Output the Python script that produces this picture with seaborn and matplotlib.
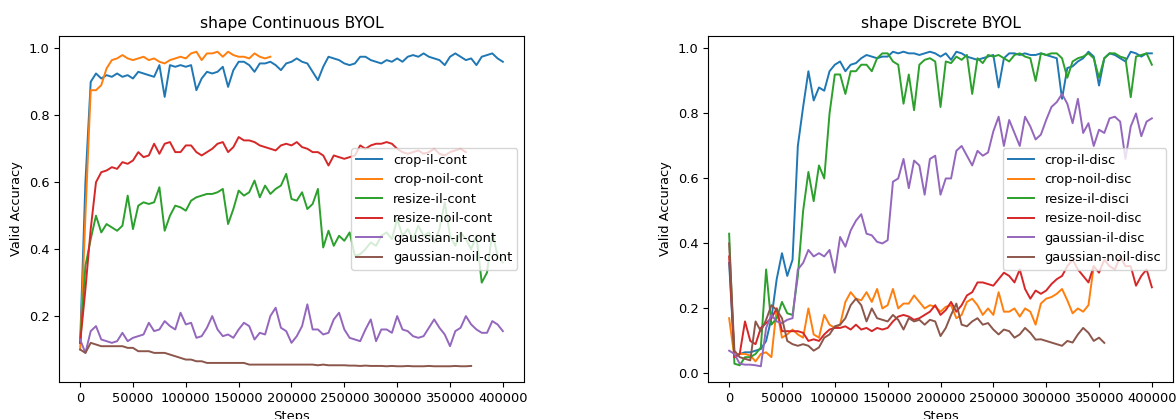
import numpy as np
import pandas as pd
import matplotlib
matplotlib.use("Agg")
import matplotlib.pyplot as plt
import seaborn as sns

# ---------------- data (steps sampled every 5000) ----------------
STEP = 5000

crop_il_cont = [0.12, 0.6, 0.90, 0.925, 0.91, 0.92, 0.915, 0.925, 0.915, 0.92,
                0.91, 0.93, 0.925, 0.92, 0.915, 0.95, 0.855, 0.95, 0.945, 0.95,
                0.945, 0.95, 0.875, 0.91, 0.93, 0.925, 0.93, 0.945, 0.885, 0.935,
                0.96, 0.96, 0.95, 0.93, 0.955, 0.955, 0.96, 0.95, 0.935, 0.955,
                0.96, 0.97, 0.96, 0.955, 0.93, 0.905, 0.945, 0.975, 0.97, 0.965,
                0.955, 0.95, 0.955, 0.975, 0.975, 0.965, 0.96, 0.955, 0.965, 0.96,
                0.97, 0.96, 0.975, 0.98, 0.975, 0.985, 0.975, 0.97, 0.965, 0.95,
                0.975, 0.985, 0.975, 0.965, 0.97, 0.95, 0.975, 0.98, 0.985, 0.97,
                0.96]
crop_noil_cont = [0.10, 0.5, 0.875, 0.875, 0.89, 0.94, 0.965, 0.97, 0.98, 0.97,
                  0.965, 0.97, 0.975, 0.965, 0.97, 0.96, 0.955, 0.965, 0.97, 0.975,
                  0.97, 0.985, 0.99, 0.965, 0.985, 0.985, 0.99, 0.975, 0.99, 0.98,
                  0.975, 0.975, 0.97, 0.985, 0.975, 0.97, 0.975]
resize_il_cont = [0.12, 0.35, 0.43, 0.50, 0.45, 0.475, 0.465, 0.455, 0.47, 0.56,
                  0.46, 0.53, 0.54, 0.535, 0.54, 0.585, 0.455, 0.50, 0.53, 0.525,
                  0.515, 0.545, 0.555, 0.56, 0.565, 0.565, 0.57, 0.58, 0.475, 0.52,
                  0.575, 0.56, 0.57, 0.605, 0.555, 0.59, 0.565, 0.58, 0.59, 0.625,
                  0.55, 0.545, 0.57, 0.52, 0.535, 0.58, 0.405, 0.455, 0.41, 0.44,
                  0.425, 0.45, 0.38, 0.385, 0.40, 0.42, 0.41, 0.44, 0.45, 0.43,
                  0.49, 0.44, 0.46, 0.43, 0.47, 0.44, 0.45, 0.42, 0.46, 0.54,
                  0.44, 0.41, 0.45, 0.43, 0.40, 0.44, 0.30, 0.33, 0.45, 0.38,
                  0.36]
resize_noil_cont = [0.12, 0.28, 0.46, 0.60, 0.63, 0.635, 0.645, 0.64, 0.66, 0.655,
                    0.665, 0.69, 0.675, 0.68, 0.715, 0.685, 0.715, 0.72, 0.69, 0.69,
                    0.71, 0.71, 0.69, 0.68, 0.69, 0.70, 0.715, 0.72, 0.69, 0.705,
                    0.735, 0.725, 0.725, 0.72, 0.71, 0.705, 0.70, 0.695, 0.71, 0.715,
                    0.71, 0.72, 0.705, 0.70, 0.69, 0.69, 0.68, 0.65, 0.68, 0.675,
                    0.67, 0.675, 0.68, 0.71, 0.70, 0.71, 0.715, 0.715, 0.72, 0.715,
                    0.70, 0.69, 0.685, 0.69, 0.695, 0.685, 0.69, 0.70, 0.685, 0.68,
                    0.69, 0.695, 0.70, 0.69]
gaussian_il_cont = [0.13, 0.09, 0.155, 0.17, 0.13, 0.125, 0.12, 0.125, 0.15, 0.125,
                    0.135, 0.14, 0.145, 0.18, 0.155, 0.16, 0.185, 0.17, 0.16, 0.21,
                    0.175, 0.18, 0.135, 0.14, 0.165, 0.20, 0.16, 0.14, 0.145, 0.135,
                    0.16, 0.18, 0.17, 0.13, 0.15, 0.145, 0.20, 0.225, 0.165, 0.155,
                    0.12, 0.14, 0.17, 0.235, 0.16, 0.16, 0.145, 0.15, 0.19, 0.21,
                    0.16, 0.135, 0.13, 0.125, 0.16, 0.19, 0.125, 0.16, 0.16, 0.15,
                    0.20, 0.16, 0.155, 0.14, 0.135, 0.14, 0.165, 0.19, 0.165, 0.145,
                    0.11, 0.155, 0.165, 0.20, 0.175, 0.16, 0.15, 0.15, 0.185, 0.175,
                    0.155]
gaussian_noil_cont = [0.10, 0.09, 0.12, 0.115, 0.11, 0.11, 0.11, 0.11, 0.11, 0.105,
                      0.105, 0.095, 0.095, 0.095, 0.09, 0.09, 0.09, 0.085, 0.08, 0.075,
                      0.07, 0.07, 0.065, 0.065, 0.06, 0.06, 0.06, 0.06, 0.06, 0.06,
                      0.06, 0.06, 0.055, 0.055, 0.055, 0.055, 0.055, 0.055, 0.055, 0.055,
                      0.055, 0.055, 0.055, 0.055, 0.055, 0.053, 0.055, 0.053, 0.053, 0.053,
                      0.053, 0.052, 0.052, 0.051, 0.052, 0.051, 0.051, 0.051, 0.05, 0.051,
                      0.05, 0.05, 0.051, 0.05, 0.05, 0.05, 0.051, 0.05, 0.05, 0.05,
                      0.05, 0.051, 0.05, 0.05, 0.051]

crop_il_disc = [0.34, 0.05, 0.06, 0.065, 0.065, 0.07, 0.075, 0.10, 0.17, 0.29,
                0.37, 0.30, 0.35, 0.70, 0.82, 0.93, 0.84, 0.88, 0.87, 0.93,
                0.95, 0.96, 0.93, 0.95, 0.955, 0.97, 0.98, 0.975, 0.97, 0.975,
                0.975, 0.99, 0.985, 0.99, 0.985, 0.985, 0.98, 0.985, 0.99, 0.985,
                0.975, 0.985, 0.965, 0.99, 0.985, 0.975, 0.97, 0.965, 0.97, 0.975,
                0.98, 0.88, 0.97, 0.985, 0.985, 0.98, 0.985, 0.98, 0.98, 0.985,
                0.98, 0.975, 0.97, 0.845, 0.94, 0.945, 0.96, 0.97, 0.99, 0.975,
                0.886, 0.97, 0.985, 0.98, 0.97, 0.96, 0.99, 0.985, 0.975, 0.985,
                0.985]
crop_noil_disc = [0.17, 0.05, 0.06, 0.06, 0.055, 0.037, 0.06, 0.065, 0.05, 0.20,
                  0.11, 0.12, 0.135, 0.12, 0.11, 0.20, 0.12, 0.11, 0.18, 0.15,
                  0.14, 0.15, 0.22, 0.25, 0.23, 0.225, 0.25, 0.22, 0.26, 0.20,
                  0.21, 0.26, 0.20, 0.215, 0.215, 0.24, 0.22, 0.20, 0.21, 0.205,
                  0.19, 0.205, 0.21, 0.17, 0.18, 0.22, 0.23, 0.21, 0.18, 0.20,
                  0.18, 0.25, 0.19, 0.19, 0.20, 0.175, 0.20, 0.19, 0.15, 0.215,
                  0.23, 0.235, 0.245, 0.26, 0.225, 0.185, 0.20, 0.19, 0.21, 0.33]
resize_il_disc = [0.43, 0.03, 0.025, 0.05, 0.05, 0.06, 0.08, 0.32, 0.15, 0.17,
                  0.22, 0.185, 0.18, 0.30, 0.50, 0.62, 0.53, 0.64, 0.60, 0.80,
                  0.92, 0.92, 0.86, 0.93, 0.93, 0.95, 0.95, 0.93, 0.97, 0.985,
                  0.985, 0.96, 0.95, 0.83, 0.92, 0.81, 0.95, 0.965, 0.97, 0.96,
                  0.82, 0.96, 0.955, 0.975, 0.965, 0.98, 0.86, 0.97, 0.955, 0.98,
                  0.975, 0.98, 0.97, 0.96, 0.98, 0.985, 0.975, 0.97, 0.90, 0.985,
                  0.98, 0.985, 0.985, 0.97, 0.91, 0.96, 0.97, 0.975, 0.985, 0.97,
                  0.91, 0.97, 0.985, 0.985, 0.975, 0.97, 0.85, 0.975, 0.98, 0.985,
                  0.95]
resize_noil_disc = [0.36, 0.05, 0.06, 0.16, 0.10, 0.09, 0.14, 0.155, 0.17, 0.20,
                    0.13, 0.13, 0.13, 0.13, 0.125, 0.10, 0.105, 0.10, 0.12, 0.135,
                    0.14, 0.14, 0.145, 0.135, 0.15, 0.135, 0.14, 0.13, 0.14, 0.135,
                    0.14, 0.16, 0.175, 0.18, 0.175, 0.165, 0.17, 0.18, 0.19, 0.21,
                    0.18, 0.195, 0.22, 0.19, 0.21, 0.24, 0.25, 0.28, 0.28, 0.275,
                    0.27, 0.29, 0.31, 0.30, 0.28, 0.32, 0.26, 0.23, 0.255, 0.245,
                    0.255, 0.275, 0.29, 0.30, 0.33, 0.35, 0.32, 0.30, 0.28, 0.33,
                    0.31, 0.35, 0.33, 0.32, 0.36, 0.33, 0.33, 0.27, 0.30, 0.32,
                    0.265]
gaussian_il_disc = [0.07, 0.06, 0.03, 0.027, 0.027, 0.025, 0.022, 0.14, 0.18, 0.16,
                    0.155, 0.165, 0.17, 0.32, 0.34, 0.38, 0.36, 0.37, 0.36, 0.38,
                    0.31, 0.42, 0.39, 0.44, 0.47, 0.49, 0.43, 0.425, 0.405, 0.40,
                    0.41, 0.59, 0.60, 0.66, 0.57, 0.655, 0.64, 0.55, 0.66, 0.67,
                    0.55, 0.60, 0.60, 0.685, 0.70, 0.67, 0.64, 0.685, 0.67, 0.68,
                    0.745, 0.79, 0.70, 0.78, 0.74, 0.70, 0.79, 0.76, 0.72, 0.735,
                    0.78, 0.82, 0.835, 0.86, 0.83, 0.77, 0.845, 0.74, 0.77, 0.70,
                    0.75, 0.74, 0.785, 0.79, 0.775, 0.66, 0.76, 0.80, 0.73, 0.775,
                    0.785]
gaussian_noil_disc = [0.40, 0.07, 0.05, 0.045, 0.04, 0.16, 0.13, 0.165, 0.21, 0.195,
                      0.17, 0.10, 0.09, 0.085, 0.09, 0.085, 0.07, 0.08, 0.11, 0.12,
                      0.145, 0.15, 0.17, 0.21, 0.23, 0.21, 0.16, 0.20, 0.17, 0.165,
                      0.16, 0.18, 0.165, 0.135, 0.17, 0.16, 0.165, 0.15, 0.165, 0.16,
                      0.115, 0.14, 0.18, 0.215, 0.15, 0.145, 0.16, 0.17, 0.15, 0.155,
                      0.135, 0.12, 0.135, 0.13, 0.11, 0.12, 0.14, 0.125, 0.104, 0.105,
                      0.10, 0.095, 0.09, 0.085, 0.10, 0.095, 0.12, 0.14, 0.125, 0.10,
                      0.11, 0.094]

cont_names = ["crop-il-cont", "crop-noil-cont", "resize-il-cont",
              "resize-noil-cont", "gaussian-il-cont", "gaussian-noil-cont"]
cont_series = [crop_il_cont, crop_noil_cont, resize_il_cont,
               resize_noil_cont, gaussian_il_cont, gaussian_noil_cont]
disc_names = ["crop-il-disc", "crop-noil-disc", "resize-il-disci",
              "resize-noil-disc", "gaussian-il-disc", "gaussian-noil-disc"]
disc_series = [crop_il_disc, crop_noil_disc, resize_il_disc,
               resize_noil_disc, gaussian_il_disc, gaussian_noil_disc]

colors = sns.color_palette("tab10", 6)

plt.rcParams["font.size"] = 9.4
plt.rcParams["axes.titlesize"] = 11.2
plt.rcParams["axes.linewidth"] = 0.8

fig, axes = plt.subplots(1, 2, figsize=(11.76, 4.19), dpi=100)
fig.subplots_adjust(left=59/1176, right=1173/1176, top=1-36/419,
                    bottom=1-382/419, wspace=0.3957)

for ax, names, series, title in [
        (axes[0], cont_names, cont_series, "shape Continuous BYOL"),
        (axes[1], disc_names, disc_series, "shape Discrete BYOL")]:
    for name, vals, c in zip(names, series, colors):
        df = pd.DataFrame({"Steps": np.arange(len(vals)) * STEP,
                           "Valid Accuracy": vals})
        sns.lineplot(data=df, x="Steps", y="Valid Accuracy", ax=ax,
                     color=c, label=name, linewidth=1.4)
    ax.set_title(title)
    ax.set_xlabel("Steps")
    ax.set_ylabel("Valid Accuracy")
    ax.set_xticks([0, 50000, 100000, 150000, 200000, 250000, 300000, 350000, 400000])
    ax.legend(loc="center right")

fig.savefig("out.png", dpi=100)
